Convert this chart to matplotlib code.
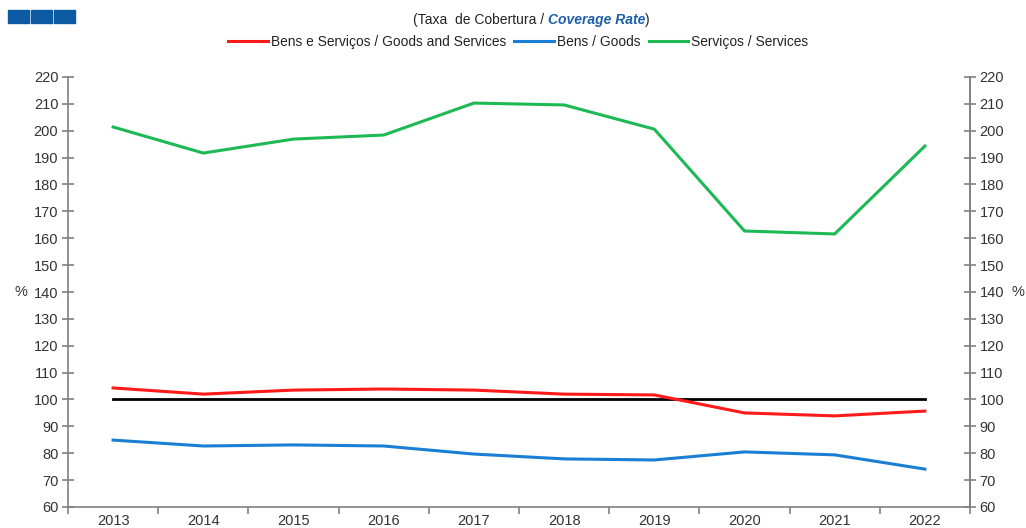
import numpy as np
import matplotlib.pyplot as plt
from matplotlib.patches import Rectangle

years = ['2013', '2014', '2015', '2016', '2017', '2018', '2019', '2020', '2021', '2022']
goods_services = [104.3, 102.0, 103.5, 103.9, 103.5, 102.0, 101.7, 95.0, 93.9, 95.7]
goods = [84.9, 82.7, 83.1, 82.7, 79.7, 77.9, 77.5, 80.5, 79.4, 74.1]
services = [201.4, 191.7, 196.9, 198.4, 210.3, 209.6, 200.6, 162.7, 161.6, 194.3]
parity = [100] * len(years)

plt.rcParams['font.family'] = ['Liberation Sans', 'DejaVu Sans']

fig = plt.figure(figsize=(10.26, 5.28), dpi=100)
ax = fig.add_axes([68/1026, 1-507/528, (970-68)/1026, (507-77)/528])

x = np.arange(len(years))
ax.plot(x, parity, color='black', lw=2)
ax.plot(x, goods_services, color='#ff1a1a', lw=2.2, label='Bens e Serviços / Goods and Services')
ax.plot(x, goods, color='#1a7fd4', lw=2.2, label='Bens / Goods')
ax.plot(x, services, color='#1db954', lw=2.2, label='Serviços / Services')

ax.set_xlim(-0.5, len(years) - 0.5)
ax.set_ylim(60, 220)
ax.set_yticks(np.arange(60, 221, 10))
ax.set_xticks(x)
ax.set_xticklabels(years)
ax.set_xticks(np.arange(-0.5, len(years), 1), minor=True)
ax.tick_params(axis='x', which='major', length=0, pad=5, labelsize=10.5, colors='#333333')
ax.tick_params(axis='x', which='minor', length=5, direction='out', color='#808080', width=1.2)
ax.tick_params(axis='y', direction='inout', length=8, color='#808080', width=1.2,
               labelsize=10.5, labelcolor='#333333', pad=3)
ax.spines['top'].set_visible(False)
for s in ['left', 'right', 'bottom']:
    ax.spines[s].set_color('#808080')
    ax.spines[s].set_linewidth(1.2)
ax.set_ylabel('%', rotation=0, fontsize=10.5, color='#333333', va='center')
ax.yaxis.set_label_coords(-0.052, 0.5)

ax2 = ax.twinx()
ax2.set_ylim(60, 220)
ax2.set_yticks(np.arange(60, 221, 10))
ax2.tick_params(axis='y', direction='inout', length=8, color='#808080', width=1.2,
                labelsize=10.5, labelcolor='#333333', pad=3)
for s in ['top', 'left', 'bottom']:
    ax2.spines[s].set_visible(False)
ax2.spines['right'].set_color('#808080')
ax2.spines['right'].set_linewidth(1.2)
ax2.set_ylabel('%', rotation=0, fontsize=10.5, color='#333333', va='center')
ax2.yaxis.set_label_coords(1.053, 0.5)

leg = fig.legend(loc='center', bbox_to_anchor=(0.505, 1-42/528), ncol=3, frameon=False,
                 fontsize=9.9, handlelength=2.9, handletextpad=0.2, columnspacing=0.6,
                 borderaxespad=0)
for t in leg.get_texts():
    t.set_color('#222222')

# title in three pieces, the middle one bold italic blue
t1 = fig.text(413/1026, 1-20/528, '(Taxa  de Cobertura / ', ha='left', va='center',
              fontsize=10, color='#222222')
t2 = ax.annotate('Coverage Rate', xy=(1, 0.5), xycoords=t1, va='center', ha='left',
                 fontsize=10, color='#1f5fa8', fontweight='bold', style='italic')
ax.annotate(')', xy=(1, 0.5), xycoords=t2, va='center', ha='left',
            fontsize=10, color='#222222')

for i in range(3):
    fig.patches.append(Rectangle(((8 + i*23)/1026, 1-23/528), 21/1026, 13/528,
                                 transform=fig.transFigure, color='#0b5aa2'))

fig.savefig('out.png', dpi=100)
